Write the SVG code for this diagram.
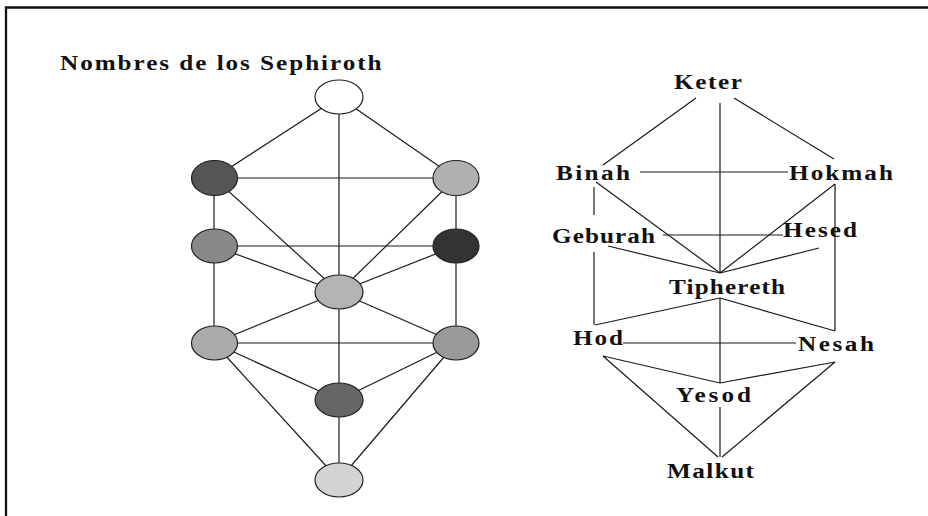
<svg xmlns="http://www.w3.org/2000/svg" width="928" height="516" viewBox="0 0 928 516">
<style>
.bg{fill:#ffffff}
.frame{fill:none;stroke:#111;stroke-width:2.3}
.ln{stroke:#1a1a1a;stroke-width:1.2;fill:none}
.nd{stroke:#222;stroke-width:1.2}
.lbl{font-family:"Liberation Serif","Times New Roman",serif;font-weight:bold;font-size:21px;fill:#111}
</style>
<rect class="bg" x="0" y="0" width="928" height="516"/>
<path class="frame" d="M6,516 V7.5 H928"/>
<text id="title" class="lbl" transform="translate(60,70) scale(1.2,1)" x="0" y="0" textLength="268" lengthAdjust="spacing">Nombres de los Sephiroth</text>

<g id="connectors-left">
<line class="ln" x1="339" y1="97" x2="214" y2="178"/>
<line class="ln" x1="339" y1="97" x2="456" y2="178"/>
<line class="ln" x1="339" y1="97" x2="339" y2="480"/>
<line class="ln" x1="214" y1="178" x2="456" y2="178"/>
<line class="ln" x1="214" y1="178" x2="214" y2="343"/>
<line class="ln" x1="456" y1="178" x2="456" y2="343"/>
<line class="ln" x1="214" y1="178" x2="339" y2="292"/>
<line class="ln" x1="456" y1="178" x2="339" y2="292"/>
<line class="ln" x1="214" y1="246" x2="456" y2="246"/>
<line class="ln" x1="214" y1="246" x2="339" y2="292"/>
<line class="ln" x1="456" y1="246" x2="339" y2="292"/>
<line class="ln" x1="339" y1="292" x2="214" y2="343"/>
<line class="ln" x1="339" y1="292" x2="456" y2="343"/>
<line class="ln" x1="214" y1="343" x2="456" y2="343"/>
<line class="ln" x1="214" y1="343" x2="339" y2="400"/>
<line class="ln" x1="456" y1="343" x2="339" y2="400"/>
<line class="ln" x1="214" y1="343" x2="339" y2="480"/>
<line class="ln" x1="456" y1="343" x2="339" y2="480"/>
</g>

<g id="n-top"><ellipse class="nd" cx="339" cy="97" rx="24" ry="17" fill="#ffffff"/></g>
<g id="n-l1"><ellipse class="nd" cx="214.5" cy="178" rx="23" ry="17.5" fill="#555555"/></g>
<g id="n-r1"><ellipse class="nd" cx="456" cy="178" rx="23" ry="17.5" fill="#b0b0b0"/></g>
<g id="n-l2"><ellipse class="nd" cx="214.5" cy="246" rx="23" ry="17" fill="#888888"/></g>
<g id="n-r2"><ellipse class="nd" cx="456" cy="246" rx="23" ry="17" fill="#333333"/></g>
<g id="n-c"><ellipse class="nd" cx="339" cy="292" rx="24" ry="17" fill="#b3b3b3"/></g>
<g id="n-l3"><ellipse class="nd" cx="214.5" cy="343" rx="23" ry="17" fill="#aaaaaa"/></g>
<g id="n-r3"><ellipse class="nd" cx="456" cy="343" rx="23" ry="17" fill="#999999"/></g>
<g id="n-y"><ellipse class="nd" cx="339" cy="400" rx="24" ry="17" fill="#666666"/></g>
<g id="n-b"><ellipse class="nd" cx="339" cy="480" rx="24" ry="17" fill="#d3d3d3"/></g>

<g id="connectors-right">
<line class="ln" x1="696" y1="98" x2="603" y2="165"/>
<line class="ln" x1="734" y1="98" x2="834" y2="159"/>
<line class="ln" x1="720" y1="103" x2="720" y2="273"/>
<line class="ln" x1="640" y1="172" x2="788" y2="172"/>
<line class="ln" x1="594" y1="187" x2="594" y2="215"/>
<line class="ln" x1="596" y1="182" x2="720" y2="273"/>
<line class="ln" x1="835" y1="184" x2="720" y2="273"/>
<line class="ln" x1="835" y1="184" x2="835" y2="331"/>
<line class="ln" x1="663" y1="235" x2="783" y2="235"/>
<line class="ln" x1="608" y1="246" x2="720" y2="273"/>
<line class="ln" x1="819" y1="248" x2="720" y2="273"/>
<line class="ln" x1="594" y1="252" x2="594" y2="325"/>
<line class="ln" x1="720" y1="298" x2="595" y2="325"/>
<line class="ln" x1="720" y1="298" x2="835" y2="331"/>
<line class="ln" x1="720" y1="298" x2="720" y2="383"/>
<line class="ln" x1="623" y1="343" x2="796" y2="343"/>
<line class="ln" x1="603" y1="356" x2="720" y2="383"/>
<line class="ln" x1="835" y1="362" x2="720" y2="383"/>
<line class="ln" x1="603" y1="356" x2="718" y2="457"/>
<line class="ln" x1="835" y1="362" x2="722" y2="457"/>
<line class="ln" x1="720" y1="407" x2="720" y2="457"/>
</g>

<g id="keter"><text class="lbl" transform="translate(674,89) scale(1.2,1)" textLength="56.7" lengthAdjust="spacing">Keter</text></g>
<g id="binah"><text class="lbl" transform="translate(556,180) scale(1.2,1)" textLength="61.7" lengthAdjust="spacing">Binah</text></g>
<g id="hokmah"><text class="lbl" transform="translate(789,180) scale(1.2,1)" textLength="86.7" lengthAdjust="spacing">Hokmah</text></g>
<g id="geburah"><text class="lbl" transform="translate(552,243) scale(1.2,1)" textLength="85.8" lengthAdjust="spacing">Geburah</text></g>
<g id="hesed"><text class="lbl" transform="translate(783,237) scale(1.2,1)" textLength="61.7" lengthAdjust="spacing">Hesed</text></g>
<g id="tiphereth"><text class="lbl" transform="translate(669,294) scale(1.2,1)" textLength="96.7" lengthAdjust="spacing">Tiphereth</text></g>
<g id="hod"><text class="lbl" transform="translate(573,345) scale(1.2,1)" textLength="41.7" lengthAdjust="spacing">Hod</text></g>
<g id="nesah"><text class="lbl" transform="translate(798,351) scale(1.2,1)" textLength="63.3" lengthAdjust="spacing">Nesah</text></g>
<g id="yesod"><text class="lbl" transform="translate(676,402) scale(1.2,1)" textLength="62.5" lengthAdjust="spacing">Yesod</text></g>
<g id="malkut"><text class="lbl" transform="translate(667,478) scale(1.2,1)" textLength="72.5" lengthAdjust="spacing">Malkut</text></g>
</svg>
